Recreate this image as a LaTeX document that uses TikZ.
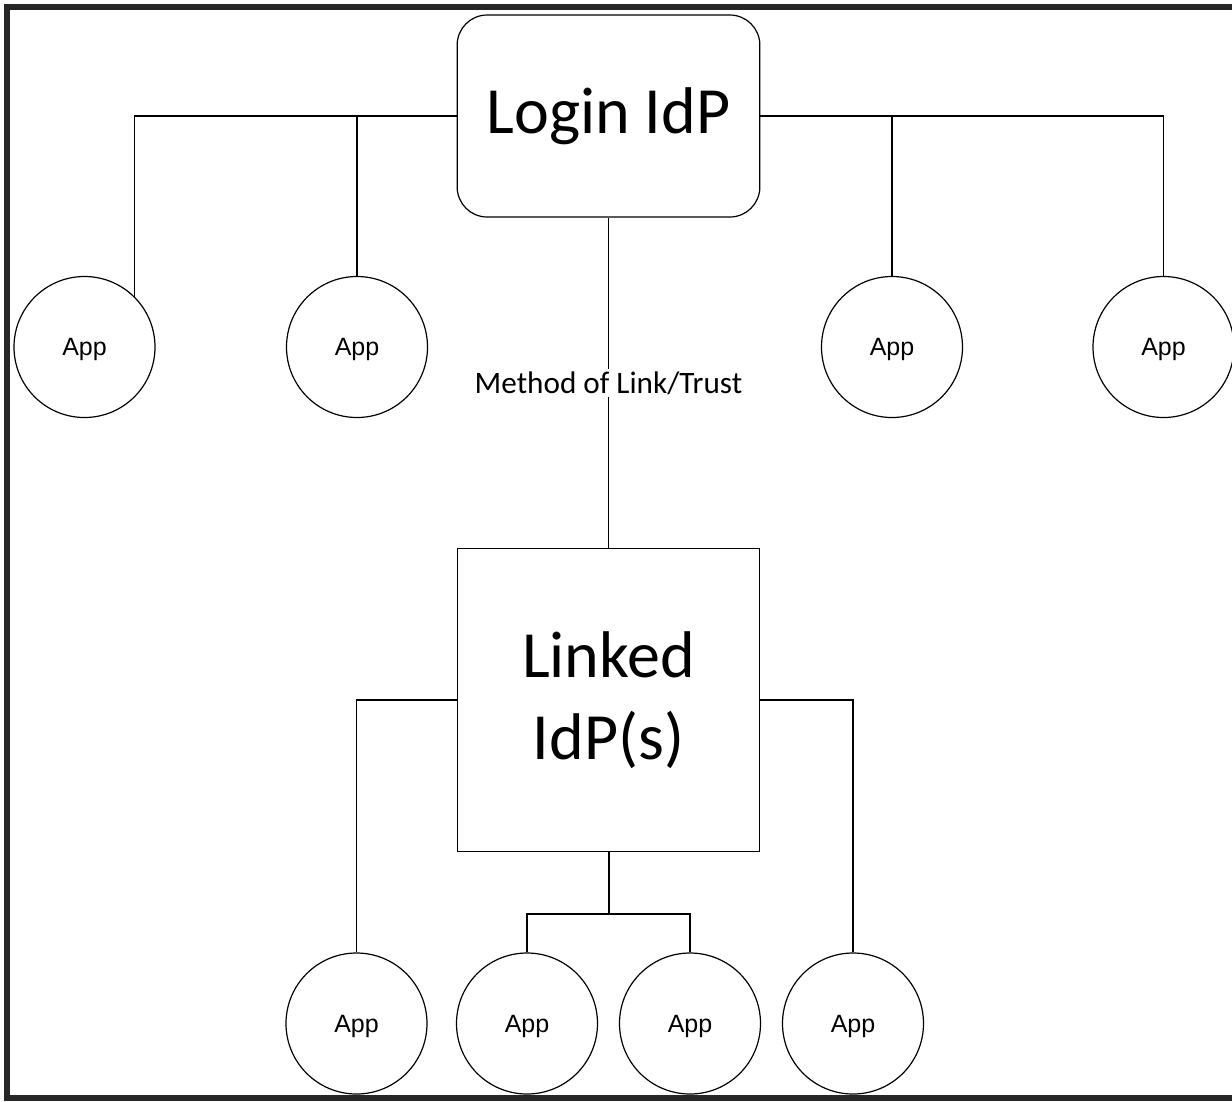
\documentclass[tikz,border=0pt]{standalone}
\usepackage{fontspec}
\setmainfont{Carlito}
\newfontfamily\appfont{Liberation Sans}
\usetikzlibrary{positioning}
\tikzset{
    idpbox/.style={draw,line width=0.9pt,minimum width=227pt,minimum height=151.5pt,
        align=center,font=\fontsize{49.5}{61.5}\selectfont},
    appnode/.style={draw,line width=0.9pt,circle,minimum size=105.75pt,inner sep=0pt,
        text depth=0pt,font=\appfont\fontsize{18.75}{22}\selectfont},
    link/.style={line width=0.9pt},
}
\begin{document}
\begin{tikzpicture}[x=0.75pt,y=-0.75pt]
    \useasboundingbox (0,0) rectangle (1232,1101);
    % frame
    \draw[line width=5pt,black!85] (1232,7) -- (7,7) -- (7,1098) -- (1232,1098);

    % identity providers
    \node[idpbox,rounded corners=22.5pt] (login) at (608.5,116) {Login IdP};
    \node[idpbox,minimum height=227pt] (linked) at (608.5,700) {Linked\\IdP(s)};

    % apps of the login idp
    \node[appnode] (app1) at (84.5,347) {App};
    \node[appnode] (app2) at (357,347) {App};
    \node[appnode] (app3) at (892,347) {App};
    \node[appnode] (app4) at (1163.5,347) {App};

    % apps of the linked idp
    \node[appnode] (app5) at (356.5,1023.5) {App};
    \node[appnode] (app6) at (527,1023.5) {App};
    \node[appnode] (app7) at (690,1023.5) {App};
    \node[appnode] (app8) at (853,1023.5) {App};
    \coordinate (fork) at (608.5,914);

    \draw[link] (login.west) -| (app1.45);
    \draw[link] (app2.north) |- (login.west);
    \draw[link] (login.east) -| (app4.north);
    \draw[link] (app3.north) |- (login.east);
    \draw[link] (login.south) -- node[fill=white,inner sep=2pt,
        font=\fontsize{23.4}{26}\selectfont] {Method of Link/Trust} (linked.north);

    \draw[link] (linked.west) -| (app5.north);
    \draw[link] (linked.east) -| (app8.north);
    \draw[line width=1.5pt] (linked.south) -- (fork);
    \draw[link] (app6.north) |- (fork) -| (app7.north);
\end{tikzpicture}
\end{document}
